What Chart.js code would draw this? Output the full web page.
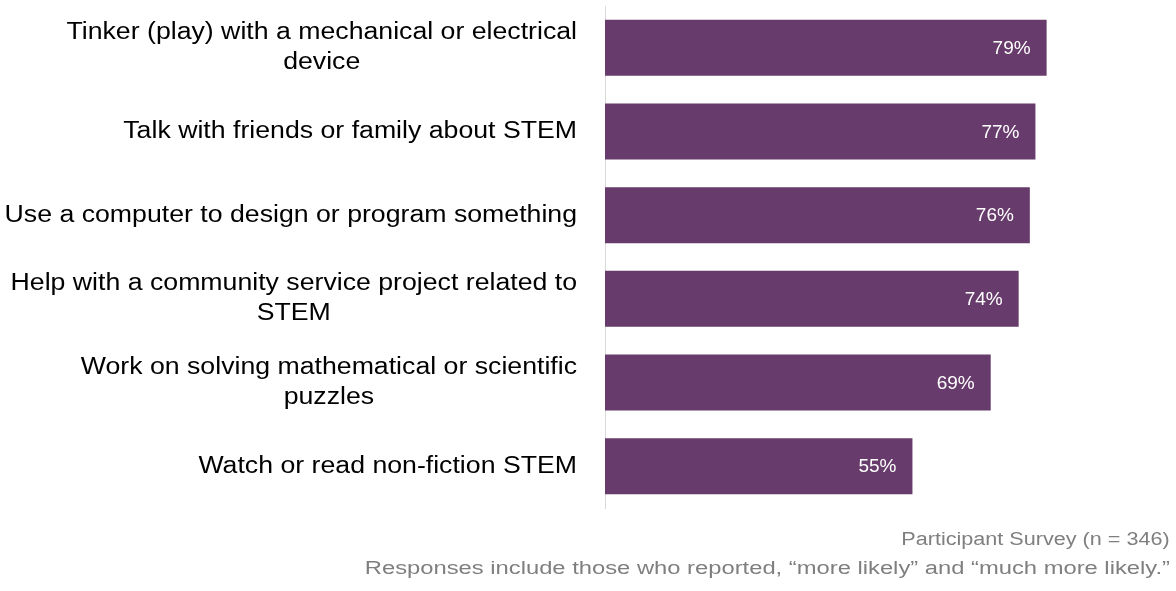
<!DOCTYPE html>
<html>
<head>
<meta charset="utf-8">
<script src="https://cdn.jsdelivr.net/npm/chart.js@4"></script>
<style>
    html, body { margin: 0; padding: 0; background: #fff; }
    #wrap { position: relative; width: 1176px; height: 591px; }
    .note {
        position: absolute;
        right: 6px;
        font-family: "Liberation Sans", Arial, sans-serif;
        font-size: 18px;
        color: #7f7f7f;
        white-space: nowrap;
        transform-origin: right center;
    }
</style>
</head>
<body>
<div id="wrap">
    <canvas id="likelyChart" width="1176" height="591"></canvas>
    <div class="note" style="top:529px; transform:scaleX(1.2)">Participant Survey (n = 346)</div>
    <div class="note" style="top:558px; transform:scaleX(1.32)">Responses include those who reported, “more likely” and “much more likely.”</div>
</div>
<script>
// category labels (one entry per line)
const categories = [
    ["Tinker (play) with a mechanical or electrical", "device"],
    ["Talk with friends or family about STEM"],
    ["Use a computer to design or program something"],
    ["Help with a community service project related to", "STEM"],
    ["Work on solving mathematical or scientific", "puzzles"],
    ["Watch or read non-fiction STEM"]
];
const percents = [79, 77, 76, 74, 69, 55];

const barColor = "#673b6b";

// draws the wrapped category labels (lines centred in a right-aligned block)
// and the white % labels inside the bars
const labelPlugin = {
    id: "sideLabels",
    afterDraw(chart) {
        const ctx = chart.ctx;
        const yScale = chart.scales.y;
        const xScale = chart.scales.x;
        const rightEdge = chart.chartArea.left - 28;
        const lineH = 30;
        const stretch = 1.16; // the source text is drawn a bit wide

        ctx.save();
        ctx.textBaseline = "middle";
        ctx.font = '23px "Liberation Sans", Arial, sans-serif';
        ctx.fillStyle = "#000";
        ctx.textAlign = "center";
        categories.forEach((lines, i) => {
            const cy = yScale.getPixelForValue(i);
            const maxW = Math.max(...lines.map(l => ctx.measureText(l).width)) * stretch;
            const cx = rightEdge - maxW / 2;
            lines.forEach((l, j) => {
                ctx.save();
                ctx.translate(cx, cy + (j - (lines.length - 1) / 2) * lineH);
                ctx.scale(stretch, 1);
                ctx.fillText(l, 0, 0);
                ctx.restore();
            });
        });

        ctx.font = '19px "Liberation Sans", Arial, sans-serif';
        ctx.fillStyle = "#fff";
        ctx.textAlign = "right";
        percents.forEach((v, i) => {
            ctx.fillText(v + "%", xScale.getPixelForValue(v) - 16, yScale.getPixelForValue(i) + 1);
        });
        ctx.restore();
    }
};

new Chart(document.getElementById("likelyChart").getContext("2d"), {
    type: "bar",
    data: {
        labels: categories.map(c => c.join(" ")),
        datasets: [{
            data: percents,
            backgroundColor: barColor,
            borderWidth: 0,
            categoryPercentage: 1,
            barPercentage: 0.67
        }]
    },
    options: {
        indexAxis: "y",
        responsive: false,
        animation: false,
        layout: { padding: { top: 6, bottom: 83, right: 12 } },
        plugins: {
            legend: { display: false },
            tooltip: { enabled: false }
        },
        scales: {
            x: { display: false, min: 0, max: 100 },
            y: {
                grid: { display: false, drawTicks: false },
                border: { display: true, color: "#d9d9d9", width: 1 },
                ticks: { display: false },
                afterFit(scale) { scale.width = 605; }
            }
        }
    },
    plugins: [labelPlugin]
});
</script>
</body>
</html>
